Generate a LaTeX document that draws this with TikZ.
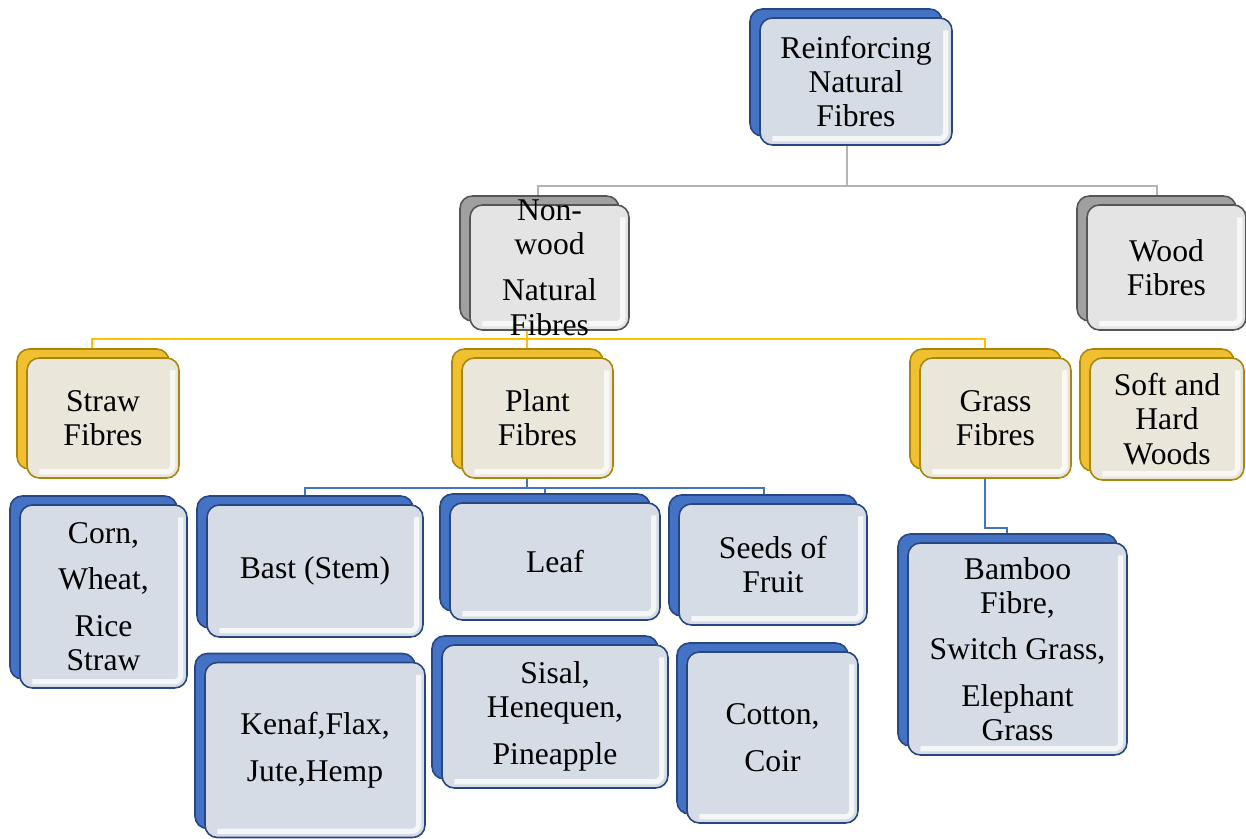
\documentclass[tikz,border=0pt]{standalone}
\usepackage{fontspec}
\setmainfont{Liberation Serif}
\usepackage{xcolor}
\usepackage{tikz}
\usetikzlibrary{shadows,backgrounds,calc}
\definecolor{backblue}{RGB}{68,114,196}
\definecolor{edgeblue}{RGB}{40,70,130}
\definecolor{faceblue}{RGB}{214,220,229}
\definecolor{backgold}{RGB}{240,192,48}
\definecolor{edgegold}{RGB}{170,135,10}
\definecolor{facegold}{RGB}{234,230,218}
\definecolor{backgrey}{RGB}{160,160,160}
\definecolor{edgegrey}{RGB}{85,85,85}
\definecolor{facegrey}{RGB}{228,228,228}
\definecolor{linkgrey}{RGB}{180,180,180}
\definecolor{linkgold}{RGB}{255,192,0}
\definecolor{linkblue}{RGB}{68,114,196}

\begin{document}
\begin{tikzpicture}[
    x=0.02cm, y=-0.02cm,
    fibre/.style={rectangle, rounded corners=7pt, align=center, inner sep=2pt, line width=0.9pt,
        font=\fontsize{18}{19.5}\selectfont,
        path picture={\draw[white, opacity=0.75, line width=3pt, rounded corners=4pt]
            ([xshift=-3.5pt,yshift=-7pt]path picture bounding box.north east)
            -- ([xshift=-3.5pt,yshift=3.5pt]path picture bounding box.south east)
            -- ([xshift=7pt,yshift=3.5pt]path picture bounding box.south west);}},
    bluebox/.style={fibre, draw=edgeblue, fill=faceblue,
        copy shadow={shadow xshift=-0.2cm, shadow yshift=0.18cm, fill=backblue, draw=edgeblue, line width=0.9pt}},
    goldbox/.style={fibre, draw=edgegold, fill=facegold,
        copy shadow={shadow xshift=-0.2cm, shadow yshift=0.18cm, fill=backgold, draw=edgegold, line width=0.9pt}},
    greybox/.style={fibre, draw=edgegrey, fill=facegrey,
        copy shadow={shadow xshift=-0.2cm, shadow yshift=0.18cm, fill=backgrey, draw=edgegrey, line width=0.9pt}},
    link/.style={line width=1.4pt}
]
\useasboundingbox (0,0) rectangle (1246,838);

% Nodes
\node[bluebox, minimum width=3.84cm, minimum height=2.54cm] (root) at (856,81.5) {Reinforcing\\Natural\\Fibres};
\node[greybox, inner ysep=-6pt, minimum width=3.18cm, minimum height=2.5cm] (nonwood) at (549.5,267.5) {Non-\\wood\\[7pt]Natural\\Fibres};
\node[greybox, minimum width=3.18cm, minimum height=2.5cm] (wood) at (1166.5,267.5) {Wood\\Fibres};
\node[goldbox, minimum width=3.04cm, minimum height=2.4cm] (straw) at (103,418) {Straw\\Fibres};
\node[goldbox, minimum width=3.02cm, minimum height=2.4cm] (plant) at (537.5,418) {Plant\\Fibres};
\node[goldbox, minimum width=3.02cm, minimum height=2.4cm] (grass) at (995.5,418) {Grass\\Fibres};
\node[goldbox, minimum width=3.08cm, minimum height=2.44cm] (soft) at (1167,419) {Soft and\\Hard\\Woods};
\node[bluebox, minimum width=3.34cm, minimum height=3.66cm] (corn) at (103.5,596.5) {Corn,\\[7pt]Wheat,\\[7pt]Rice\\Straw};
\node[bluebox, minimum width=4.32cm, minimum height=2.64cm] (bast) at (315,571) {Bast (Stem)};
\node[bluebox, minimum width=4.2cm, minimum height=2.34cm] (leaf) at (555,561.5) {Leaf};
\node[bluebox, minimum width=3.76cm, minimum height=2.42cm] (seeds) at (773,564.5) {Seeds of\\Fruit};
\node[bluebox, minimum width=4.4cm, minimum height=3.5cm] (kenaf) at (315,750) {Kenaf,Flax,\\[7pt]Jute,Hemp};
\node[bluebox, minimum width=4.52cm, minimum height=2.86cm] (sisal) at (555,716.5) {Sisal,\\Henequen,\\[7pt]Pineapple};
\node[bluebox, minimum width=3.42cm, minimum height=3.42cm] (cotton) at (772.5,737.5) {Cotton,\\[7pt]Coir};
\node[bluebox, minimum width=4.38cm, minimum height=4.24cm] (bamboo) at (1017.5,649) {Bamboo\\Fibre,\\[7pt]Switch Grass,\\[7pt]Elephant\\Grass};

% Edges
\begin{scope}[on background layer]
\draw[link, linkgrey] ($(root.south)+(-9,0)$) -- ++(0,40) -| ($(nonwood.north)+(-11.5,0)$);
\draw[link, linkgrey] ($(root.south)+(-9,40)$) -| ($(wood.north)+(-9.5,0)$);
\draw[link, linkgold] ($(nonwood.south)+(-22.5,0)$) -- ++(0,8) -| ($(straw.north)+(-11,0)$);
\draw[link, linkgold] ($(nonwood.south)+(-22.5,8)$) -| ($(plant.north)+(-10.5,0)$);
\draw[link, linkgold] ($(nonwood.south)+(-22.5,8)$) -| ($(grass.north)+(-10.5,0)$);
\draw[link, linkgold] ($(wood.south)+(-9.5,0)$) -- ($(wood.south)+(-9.5,0)$ |- soft.north);
\draw[link, linkblue] ($(straw.south)+(-11,0)$) -- ($(straw.south)+(-11,0)$ |- corn.north);
\draw[link, linkblue] ($(plant.south)+(-10.5,0)$) -- ++(0,9) -| ($(bast.north)+(-10,0)$);
\draw[link, linkblue] ($(plant.south)+(-10.5,9)$) -| ($(leaf.north)+(-10,0)$);
\draw[link, linkblue] ($(plant.south)+(-10.5,9)$) -| ($(seeds.north)+(-9,0)$);
\draw[link, linkblue] ($(bast.south)+(-10,0)$) -- ($(bast.south)+(-10,0)$ |- kenaf.north);
\draw[link, linkblue] ($(leaf.south)+(-10,0)$) -- ($(leaf.south)+(-10,0)$ |- sisal.north);
\draw[link, linkblue] ($(seeds.south)+(-9,0)$) -- ($(seeds.south)+(-9,0)$ |- cotton.north);
\draw[link, linkblue] ($(grass.south)+(-10.5,0)$) -- ++(0,49) -| ($(bamboo.north)+(-10.5,0)$);
\end{scope}
\end{tikzpicture}
\end{document}
